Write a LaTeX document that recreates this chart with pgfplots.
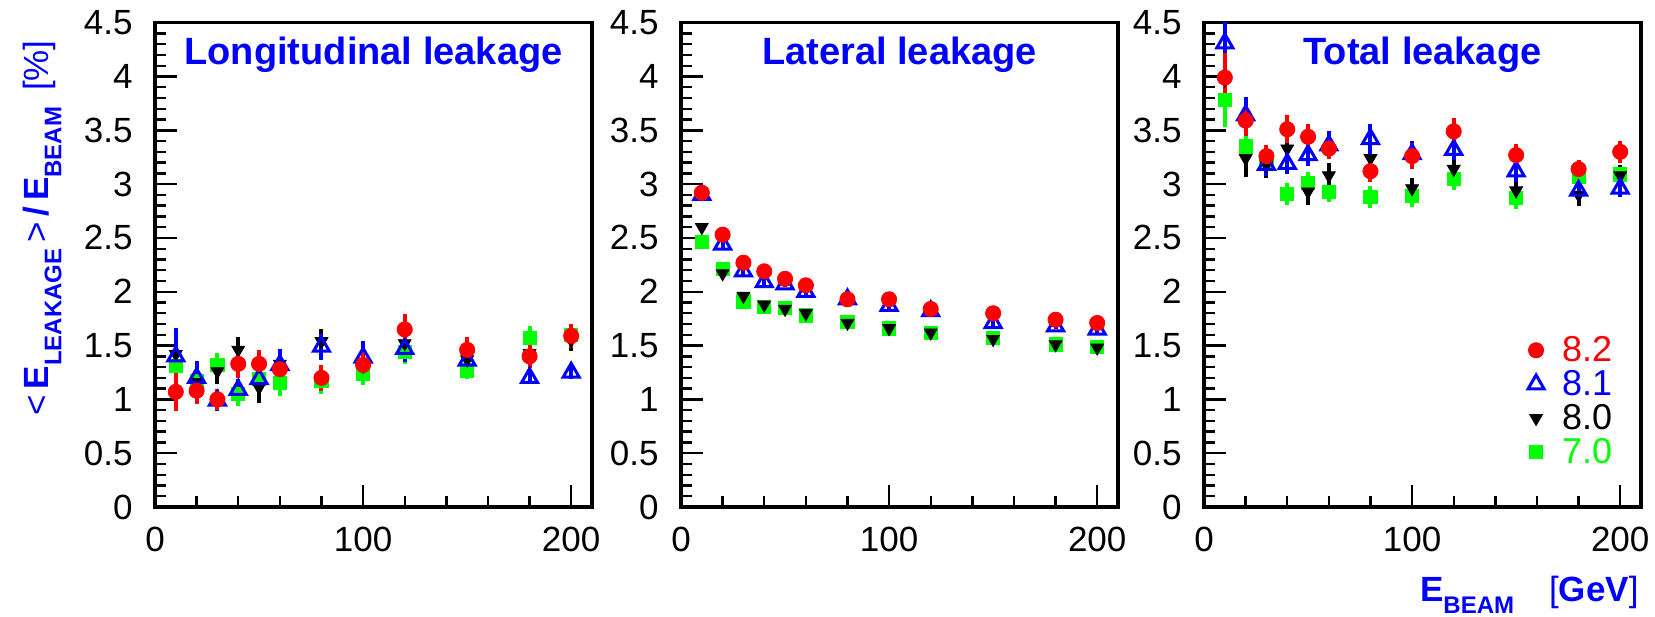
\documentclass[border=0pt]{standalone}
\usepackage{fontspec}
\setmainfont{Liberation Sans}
\usepackage{pgfplots}
\usepackage{pgfplotstable}
\pgfplotsset{compat=1.18}

\definecolor{rred}{RGB}{255,0,0}
\definecolor{rblue}{RGB}{0,0,255}
\definecolor{rgreen}{RGB}{0,255,0}

% columns: beam energy, then value and error for 8.2 (r), 8.1 (b), 8.0 (k), 7.0 (g)
\pgfplotstableread{
x   r    re   b    be   k    ke   g    ge
10  1.07 0.18 1.40 0.26 1.42 0.18 1.31 0.15
20  1.08 0.12 1.20 0.16 1.16 0.20 1.17 0.12
30  1.00 0.10 0.99 0.10 1.26 0.12 1.32 0.11
40  1.33 0.13 1.09 0.10 1.46 0.12 1.05 0.11
50  1.33 0.13 1.19 0.10 1.11 0.14 1.19 0.10
60  1.28 0.12 1.32 0.15 1.33 0.12 1.15 0.12
80  1.20 0.12 1.49 0.12 1.54 0.11 1.17 0.12
100 1.32 0.12 1.39 0.15 1.31 0.12 1.24 0.11
120 1.65 0.14 1.47 0.12 1.52 0.12 1.44 0.11
150 1.46 0.12 1.36 0.10 1.37 0.10 1.27 0.08
180 1.40 0.11 1.20 0.06 1.43 0.10 1.57 0.11
200 1.59 0.11 1.25 0.06 1.55 0.10 1.60 0.10
}\longtab

\pgfplotstableread{
x   r    re   b    be   k    ke   g    ge
10  2.92 0.03 2.90 0.03 2.60 0.03 2.46 0.03
20  2.53 0.03 2.44 0.03 2.17 0.03 2.21 0.03
30  2.27 0.03 2.19 0.03 1.96 0.03 1.91 0.03
40  2.19 0.03 2.09 0.03 1.88 0.03 1.86 0.03
50  2.12 0.03 2.07 0.03 1.84 0.03 1.85 0.03
60  2.06 0.03 2.00 0.03 1.80 0.03 1.78 0.03
80  1.93 0.03 1.93 0.03 1.71 0.03 1.72 0.03
100 1.93 0.03 1.87 0.03 1.66 0.03 1.66 0.03
120 1.84 0.03 1.82 0.03 1.62 0.03 1.62 0.03
150 1.80 0.03 1.71 0.03 1.56 0.03 1.57 0.03
180 1.74 0.03 1.68 0.03 1.51 0.03 1.51 0.03
200 1.71 0.03 1.65 0.03 1.48 0.03 1.49 0.03
}\lattab

\pgfplotstableread{
x   r    re   b    be   k    ke   g    ge
10  3.99 0.23 4.31 0.20 3.97 0.20 3.78 0.25
20  3.59 0.14 3.64 0.17 3.24 0.17 3.35 0.10
30  3.26 0.10 3.18 0.10 3.18 0.12 3.21 0.10
40  3.51 0.13 3.19 0.10 3.33 0.10 2.91 0.10
50  3.44 0.12 3.27 0.10 2.93 0.12 3.01 0.10
60  3.33 0.10 3.36 0.13 3.08 0.12 2.93 0.10
80  3.12 0.10 3.42 0.14 3.24 0.10 2.88 0.10
100 3.26 0.12 3.28 0.12 2.96 0.10 2.89 0.10
120 3.49 0.12 3.32 0.10 3.14 0.10 3.05 0.10
150 3.27 0.10 3.12 0.10 2.94 0.10 2.87 0.10
180 3.14 0.08 2.94 0.08 2.90 0.10 3.07 0.08
200 3.30 0.10 2.96 0.08 3.08 0.10 3.09 0.08
}\tottab

\pgfplotsset{
  leak/.style={
    scale only axis, width=218.5pt, height=242.15pt,
    anchor=south west,
    xmin=0, xmax=210, ymin=0, ymax=4.5,
    xtick={0,100,200}, minor x tick num=4,
    ytick={0,0.5,1,1.5,2,2.5,3,3.5,4,4.5}, minor y tick num=4,
    tick align=inside, tick pos=left,
    major tick length=11pt, minor tick length=5.5pt,
    axis line style={line width=1.6pt},
    every tick/.style={black, line width=1.2pt},
    /pgf/number format/assume math mode=true,
    ticklabel style={font=\fontsize{17.5}{21}\selectfont, inner sep=0pt},
    xticklabel shift=10pt, yticklabel shift=11pt,
  },
  errs/.style={error bars/.cd, y dir=both, y explicit, error mark=none,
    error bar style={line width=2pt, #1}},
  s70/.style={only marks, color=rgreen, mark=square*, mark size=3.3pt,
    mark options={draw=rgreen, fill=rgreen}, errs=rgreen},
  s80/.style={only marks, color=black, mark=triangle*, mark size=3.7pt,
    mark options={rotate=180, draw=black, fill=black}, errs=black},
  s81/.style={only marks, color=rblue, mark=triangle, mark size=4.6pt,
    mark options={line width=1.5pt, draw=rblue, fill=none}, errs=rblue},
  s82/.style={only marks, color=rred, mark=*, mark size=3.8pt,
    mark options={draw=rred, fill=rred}, errs=rred},
}

\newcommand{\fourseries}[1]{%
  \addplot[s70] table[x=x, y=g, y error=ge] {#1};
  \addplot[s80] table[x=x, y=k, y error=ke] {#1};
  \addplot[s81] table[x=x, y=b, y error=be] {#1};
  \addplot[s82] table[x=x, y=r, y error=re] {#1};
}
\newcommand{\paneltitle}[1]{%
  \node[anchor=base, text=rblue, font=\fontsize{19}{22}\selectfont\bfseries]
    at (rel axis cs:0.5,0.913) {#1};
}
\newcommand{\sub}[1]{\raisebox{-0.35em}{\fontsize{12}{14}\selectfont\bfseries #1}}

\begin{document}
\begin{tikzpicture}
\useasboundingbox (0,0) rectangle (827.5pt,308pt);

\begin{axis}[leak, at={(77.5pt,54.5pt)}]
  \fourseries{\longtab}
  \paneltitle{Longitudinal leakage}
\end{axis}

\begin{axis}[leak, at={(340.5pt,54.5pt)}]
  \fourseries{\lattab}
  \paneltitle{Lateral leakage}
\end{axis}

\begin{axis}[leak, at={(602pt,54.5pt)},
    reverse legend,
    legend cell align=left,
    legend style={at={(rel axis cs:0.727,0.37)}, anchor=north west,
      draw=none, fill=none, row sep=-1.1pt,
      font=\fontsize{18}{20}\selectfont}]
  \fourseries{\tottab}
  \addlegendentry{\hspace{7pt}\textcolor{rgreen}{7.0}}
  \addlegendentry{\hspace{7pt}\textcolor{black}{8.0}}
  \addlegendentry{\hspace{7pt}\textcolor{rblue}{8.1}}
  \addlegendentry{\hspace{7pt}\textcolor{rred}{8.2}}
  \paneltitle{Total leakage}
\end{axis}

% axis titles
\node[rotate=90, anchor=base east, text=rblue, font=\fontsize{17.5}{21}\selectfont, inner sep=0pt]
  at (24.5pt,288pt)
  {<\,\textbf{E}\sub{LEAKAGE}\,>\,\textbf{/\,E}\sub{BEAM}\hspace{0.45em}[\%]};
\node[anchor=base east, text=rblue, font=\fontsize{17.5}{21}\selectfont, inner sep=0pt]
  at (819.5pt,7.5pt)
  {\textbf{E}\sub{BEAM}\hspace{1em}[\textbf{GeV}]};
\end{tikzpicture}
\end{document}
